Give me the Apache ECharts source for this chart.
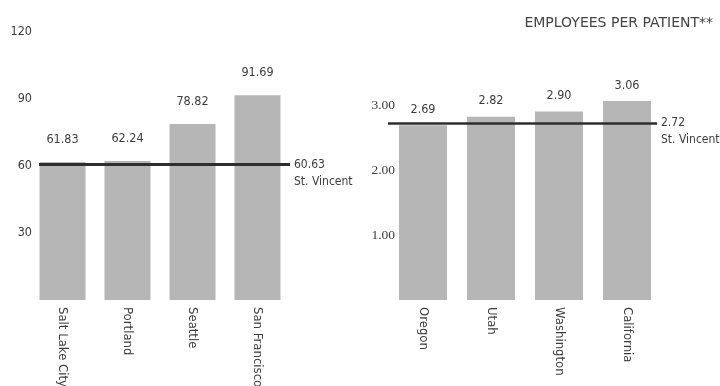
<!DOCTYPE html>
<html><head><meta charset="utf-8">
<script src="https://cdn.jsdelivr.net/npm/echarts@6/dist/echarts.min.js"></script>
<style>html,body{margin:0;padding:0;background:#fff}#c{width:720px;height:386px}</style>
</head><body><div id="c"></div>
<script>
const titleText = 'EMPLOYEES PER PATIENT**';
const cityCategories = ['Salt Lake City', 'Portland', 'Seattle', 'San Francisco'];
const cityValues = [61.83, 62.24, 78.82, 91.69];
const cityRef = 60.63;
const cityTicks = [30, 60, 90, 120];
const stateCategories = ['Oregon', 'Utah', 'Washington', 'California'];
const stateValues = [2.69, 2.82, 2.90, 3.06];
const stateRef = 2.72;
const stateTicks = [1, 2, 3];
const refName = 'St. Vincent';

const FONT = '"DejaVu Sans Condensed", "Liberation Sans", sans-serif';
const TXT = '#3c3c3c';
const BAR = '#b6b6b6';

function refLine(val, dec, x0, x1, w) {
  return {
    silent: true, symbol: 'none',
    lineStyle: { color: '#2e2e2e', width: w, type: 'solid' },
    label: {
      show: true, position: 'end', distance: 4,
      formatter: '{e|}\n{v|' + val.toFixed(dec) + '}\n{n|' + refName + '}',
      color: TXT, fontFamily: FONT, fontSize: 12,
      align: 'left',
      rich: {
        e: { height: 17, lineHeight: 17, fontSize: 12 },
        v: { lineHeight: 17, fontSize: 12, color: TXT, fontFamily: FONT },
        n: { lineHeight: 17, fontSize: 12, color: TXT, fontFamily: FONT }
      }
    },
    data: [[{ x: x0, yAxis: val }, { x: x1, yAxis: val }]]
  };
}

const chart = echarts.init(document.getElementById('c'), null, { renderer: 'canvas' });
chart.setOption({
  animation: false,
  backgroundColor: '#fff',
  title: {
    text: titleText, right: 2, top: 11,
    textStyle: { color: '#444', fontFamily: '"DejaVu Sans", sans-serif', fontSize: 14, fontWeight: 'normal' }
  },
  grid: [
    { left: 30, width: 260, top: 32, bottom: 86, containLabel: false, outerBoundsMode: 'none' },
    { left: 389, width: 272, top: 40, bottom: 86, containLabel: false, outerBoundsMode: 'none' }
  ],
  xAxis: [
    { type: 'category', gridIndex: 0, data: cityCategories,
      axisLine: { show: false }, axisTick: { show: false },
      axisLabel: { rotate: -90, margin: 7, color: TXT, fontFamily: FONT, fontSize: 13, interval: 0 } },
    { type: 'category', gridIndex: 1, data: stateCategories,
      axisLine: { show: false }, axisTick: { show: false },
      axisLabel: { rotate: -90, margin: 7, color: TXT, fontFamily: FONT, fontSize: 13, interval: 0 } }
  ],
  yAxis: [
    { type: 'value', gridIndex: 0, min: 0, max: 120, interval: 30,
      splitLine: { show: false }, axisLine: { show: false }, axisTick: { show: false },
      axisLabel: { margin: -2, color: TXT, fontFamily: FONT, fontSize: 12.5,
        formatter: v => cityTicks.includes(v) ? String(v) : '' } },
    { type: 'value', gridIndex: 1, min: 0, max: 4, interval: 1,
      splitLine: { show: false }, axisLine: { show: false }, axisTick: { show: false },
      axisLabel: { margin: -6, color: TXT, fontFamily: '"Liberation Serif", serif', fontSize: 13.5,
        formatter: v => stateTicks.includes(v) ? v.toFixed(2) : '' } }
  ],
  series: [
    { type: 'bar', xAxisIndex: 0, yAxisIndex: 0, data: cityValues, barWidth: 46,
      itemStyle: { color: BAR },
      label: { show: true, position: 'top', distance: 16, color: TXT, fontFamily: FONT, fontSize: 12.5,
        formatter: p => p.value.toFixed(2) },
      markLine: refLine(cityRef, 2, 39, 290, 3) },
    { type: 'bar', xAxisIndex: 1, yAxisIndex: 1, data: stateValues, barWidth: 48,
      itemStyle: { color: BAR },
      label: { show: true, position: 'top', distance: 9, color: TXT, fontFamily: FONT, fontSize: 12.5,
        formatter: p => p.value.toFixed(2) },
      markLine: refLine(stateRef, 2, 388, 657, 2.5) }
  ]
});
</script></body></html>
